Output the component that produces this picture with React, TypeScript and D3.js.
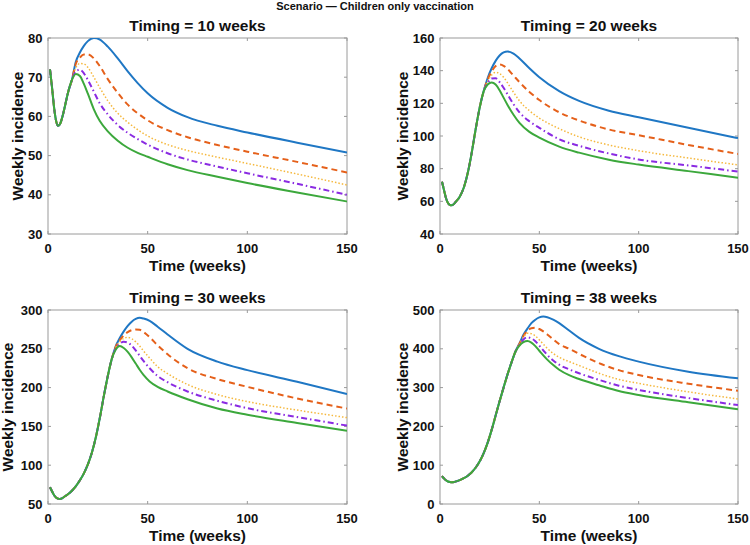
import React from "react";
import * as d3 from "d3";

// ---- Timing = 10 weeks ----
const preWeeks10 = [1, 2, 3, 4, 5, 6, 7, 8, 10, 12];
const preCases10 = [72, 67.5, 62.5, 59, 57.6, 58, 59.5, 61.5, 66, 69.3];
const postWeeks10 = [14, 16, 18, 20, 23, 26, 30, 35, 40, 45, 50, 60, 70, 85, 100, 125, 150];
const blue10 = [74, 76.3, 78, 79.2, 80, 79.6, 77.8, 74.8, 71.5, 68.5, 65.9, 62.2, 59.8, 57.6, 55.9, 53.3, 50.8];
const orange10 = [73.5, 75, 75.8, 75.8, 74.8, 72.8, 69.5, 66, 63, 60.8, 59, 56.5, 54.7, 52.7, 51, 48.4, 45.7];
const yellow10 = [72.5, 73.5, 73.4, 72.5, 70, 67.3, 64, 60.8, 58.5, 56.6, 55, 52.8, 51.3, 49.6, 48, 45.3, 42.5];
const purple10 = [71.5, 71.9, 71, 69.3, 66.3, 63.3, 60.5, 57.8, 55.8, 54.2, 52.8, 50.6, 49, 47.2, 45.5, 42.8, 40];
const green10 = [70.8, 70.3, 68.3, 65.8, 61.8, 58.8, 56.2, 53.8, 52, 50.7, 49.7, 47.8, 46.3, 44.6, 43, 40.6, 38.3];

// ---- Timing = 20 weeks ----
const preWeeks20 = [1, 2, 3, 4, 5, 6, 7, 8, 10, 12, 14, 16, 18, 20, 22];
const preCases20 = [72, 67, 62, 59, 57.8, 57.6, 58.3, 59.8, 63, 68.5, 77.5, 90, 104.5, 117.5, 127.5];
const postWeeks20 = [24, 26, 28, 30, 32, 34, 37, 40, 45, 50, 60, 70, 85, 100, 125, 150];
const blue20 = [135.5, 141.5, 146, 149.3, 151.2, 151.8, 150.5, 147.5, 141.5, 136, 127.5, 121.5, 115.5, 111.5, 105, 98.7];
const orange20 = [134.5, 139.5, 142.8, 143.8, 143, 141, 137, 133, 127, 122, 114.5, 109.5, 104, 100.5, 94.5, 89];
const yellow20 = [133.5, 137.3, 139, 138.3, 136, 132.5, 126.8, 121.5, 115.5, 111, 104.5, 99.5, 94.5, 91, 86.5, 82.3];
const purple20 = [132.5, 135.2, 135.3, 133, 129.5, 125.5, 119.5, 114.5, 109, 105, 98, 94, 89.3, 85.6, 82, 78.2];
const green20 = [131.5, 132.8, 131.5, 128, 123.5, 119, 113, 108, 102.5, 99, 93.5, 89.8, 85.5, 82.5, 78.5, 74.5];

// ---- Timing = 30 weeks ----
const preWeeks30 = [1, 2, 3, 4, 5, 6, 7, 8, 10, 12, 14, 16, 18, 20, 22, 24, 26, 28, 30, 32];
const preCases30 = [71.5, 66.5, 61.5, 58.5, 57, 56.5, 57.2, 59, 62.5, 67, 73, 80.5, 89.5, 101, 116, 136, 161, 189, 215, 237];
const postWeeks30 = [34, 36, 38, 40, 42, 44, 46, 48, 51, 55, 60, 70, 85, 100, 125, 150];
const blue30 = [253.5, 264, 272.5, 279.5, 285, 288.5, 290, 289, 286, 278.5, 268.5, 250, 233.5, 222.5, 207.5, 191.8];
const orange30 = [252.5, 261, 267.5, 271.5, 274, 275, 274.5, 271.5, 265, 254.5, 243, 225, 211, 201, 186, 173];
const yellow30 = [251.5, 259, 263.5, 264.8, 263, 259, 253.5, 247, 238, 227, 218, 204, 191, 182, 171, 161.3];
const purple30 = [250, 256.5, 259, 258, 254, 248, 241, 234, 225, 215, 207, 195, 183, 173.5, 162, 151];
const green30 = [249, 253.5, 251, 246, 239, 231, 223, 216, 208, 201, 195, 185, 173, 165, 154.5, 144.5];

// ---- Timing = 38 weeks ----
const preWeeks38 = [1, 2, 3, 4, 5, 6, 7, 8, 10, 12, 14, 16, 18, 20, 22, 24, 26, 28, 30, 32, 34, 36, 38];
const preCases38 = [72, 66, 61, 58, 56.5, 56, 56.5, 58, 61.5, 66.5, 73, 82, 94, 110, 131, 158, 191, 228, 265, 300, 334, 365, 393];
const postWeeks38 = [40, 42, 44, 46, 48, 50, 52, 54, 57, 60, 65, 70, 80, 90, 100, 125, 150];
const blue38 = [414, 436, 452, 466, 475, 481, 483, 481.5, 475, 466, 447, 428, 400, 381, 367, 341, 324];
const orange38 = [413, 433, 446, 453, 454, 451, 445, 437, 424, 412, 400, 387, 363, 345, 332.5, 310, 292];
const yellow38 = [412, 430, 440, 439, 433, 423, 412, 401, 388, 378, 367, 357, 337, 321, 311, 289, 270.6];
const purple38 = [410, 424, 429.5, 427, 419.5, 408, 396, 384, 370, 359, 347, 337, 320, 305, 294, 273, 255];
const green38 = [408, 417, 420, 416, 407, 395, 383, 372, 358, 346, 332, 322, 306, 291, 281, 262, 244];

const xTicks = [0, 50, 100, 150];

type Style = { color: string; width: number; dash?: string };
const seriesStyles: Style[] = [
  { color: "#1f77c4", width: 2 },
  { color: "#e5601a", width: 2, dash: "6,4" },
  { color: "#f5b83d", width: 1.5, dash: "1.5,2" },
  { color: "#8a2be2", width: 2, dash: "6,3,1.5,3" },
  { color: "#3ca83c", width: 2 },
];

type PanelDef = {
  title: string;
  yDomain: [number, number];
  yStep: number;
  preWeeks: number[];
  preCases: number[];
  postWeeks: number[];
  series: number[][];
  box: { x0: number; x1: number; y0: number; y1: number };
  yLabelX: number;
};

const panels: PanelDef[] = [
  {
    title: "Timing = 10 weeks",
    yDomain: [30, 80],
    yStep: 10,
    preWeeks: preWeeks10,
    preCases: preCases10,
    postWeeks: postWeeks10,
    series: [blue10, orange10, yellow10, purple10, green10],
    box: { x0: 48, x1: 347, y0: 38, y1: 234 },
    yLabelX: 22.5,
  },
  {
    title: "Timing = 20 weeks",
    yDomain: [40, 160],
    yStep: 20,
    preWeeks: preWeeks20,
    preCases: preCases20,
    postWeeks: postWeeks20,
    series: [blue20, orange20, yellow20, purple20, green20],
    box: { x0: 440, x1: 738, y0: 38, y1: 234 },
    yLabelX: 408,
  },
  {
    title: "Timing = 30 weeks",
    yDomain: [50, 300],
    yStep: 50,
    preWeeks: preWeeks30,
    preCases: preCases30,
    postWeeks: postWeeks30,
    series: [blue30, orange30, yellow30, purple30, green30],
    box: { x0: 48, x1: 347, y0: 310, y1: 504 },
    yLabelX: 13,
  },
  {
    title: "Timing = 38 weeks",
    yDomain: [0, 500],
    yStep: 100,
    preWeeks: preWeeks38,
    preCases: preCases38,
    postWeeks: postWeeks38,
    series: [blue38, orange38, yellow38, purple38, green38],
    box: { x0: 440, x1: 738, y0: 310, y1: 504 },
    yLabelX: 408,
  },
];

const FONT = "'Liberation Sans', Arial, Helvetica, sans-serif";
const AXIS_GRAY = "#9a9a9a";

function Panel({ p }: { p: PanelDef }) {
  const { x0, x1, y0, y1 } = p.box;
  const x = d3.scaleLinear().domain([0, 150]).range([x0, x1]);
  const y = d3.scaleLinear().domain(p.yDomain).range([y1, y0]);
  const yTicks = d3.range(p.yDomain[0], p.yDomain[1] + p.yStep / 2, p.yStep);
  const line = d3
    .line<[number, number]>()
    .x((d) => x(d[0]))
    .y((d) => y(d[1]))
    .curve(d3.curveMonotoneX);
  const tickLen = 3;
  const cx = (x0 + x1) / 2;
  const cy = (y0 + y1) / 2;
  const clipId = `clip-${x0}-${y0}`;

  return (
    <g>
      <defs>
        <clipPath id={clipId}>
          <rect x={x0} y={y0} width={x1 - x0} height={y1 - y0} />
        </clipPath>
      </defs>
      <rect x={x0} y={y0} width={x1 - x0} height={y1 - y0} fill="#fff" stroke={AXIS_GRAY} strokeWidth={1} />
      {xTicks.map((t) => (
        <g key={`xt${t}`}>
          <line x1={x(t)} x2={x(t)} y1={y1} y2={y1 - tickLen} stroke={AXIS_GRAY} />
          <line x1={x(t)} x2={x(t)} y1={y0} y2={y0 + tickLen} stroke={AXIS_GRAY} />
          <text x={x(t)} y={y1 + 18.5} textAnchor="middle" fontSize={13} fontWeight="bold" fill="#111">
            {t}
          </text>
        </g>
      ))}
      {yTicks.map((t) => (
        <g key={`yt${t}`}>
          <line x1={x0} x2={x0 + tickLen} y1={y(t)} y2={y(t)} stroke={AXIS_GRAY} />
          <line x1={x1} x2={x1 - tickLen} y1={y(t)} y2={y(t)} stroke={AXIS_GRAY} />
          <text x={x0 - 5.5} y={y(t) + 4.6} textAnchor="end" fontSize={13} fontWeight="bold" fill="#111">
            {t}
          </text>
        </g>
      ))}
      <g clipPath={`url(#${clipId})`}>
        {p.series.map((vals, i) => {
          const pts: [number, number][] = [
            ...p.preWeeks.map((w, k) => [w, p.preCases[k]] as [number, number]),
            ...p.postWeeks.map((w, k) => [w, vals[k]] as [number, number]),
          ];
          const s = seriesStyles[i];
          return (
            <path
              key={i}
              d={line(pts) ?? ""}
              fill="none"
              stroke={s.color}
              strokeWidth={s.width}
              strokeDasharray={s.dash}
              strokeLinejoin="round"
            />
          );
        })}
      </g>
      <text x={cx} y={y0 - 7} textAnchor="middle" fontSize={15.5} fontWeight="bold" fill="#111">
        {p.title}
      </text>
      <text x={cx} y={y1 + 37} textAnchor="middle" fontSize={15.5} fontWeight="bold" fill="#111">
        Time (weeks)
      </text>
      <text
        transform={`translate(${p.yLabelX},${cy}) rotate(-90)`}
        textAnchor="middle"
        fontSize={15.5}
        fontWeight="bold"
        fill="#111"
      >
        Weekly incidence
      </text>
    </g>
  );
}

export default function App() {
  return (
    <svg
      width={750}
      height={545}
      style={{ position: "absolute", left: 0, top: 0, background: "#fff", fontFamily: FONT }}
    >
      <rect width={750} height={545} fill="#fff" />
      <text x={375} y={9.5} textAnchor="middle" fontSize={11} fontWeight="bold" fill="#111">
        Scenario — Children only vaccination
      </text>
      {panels.map((p) => (
        <Panel key={p.title} p={p} />
      ))}
    </svg>
  );
}
